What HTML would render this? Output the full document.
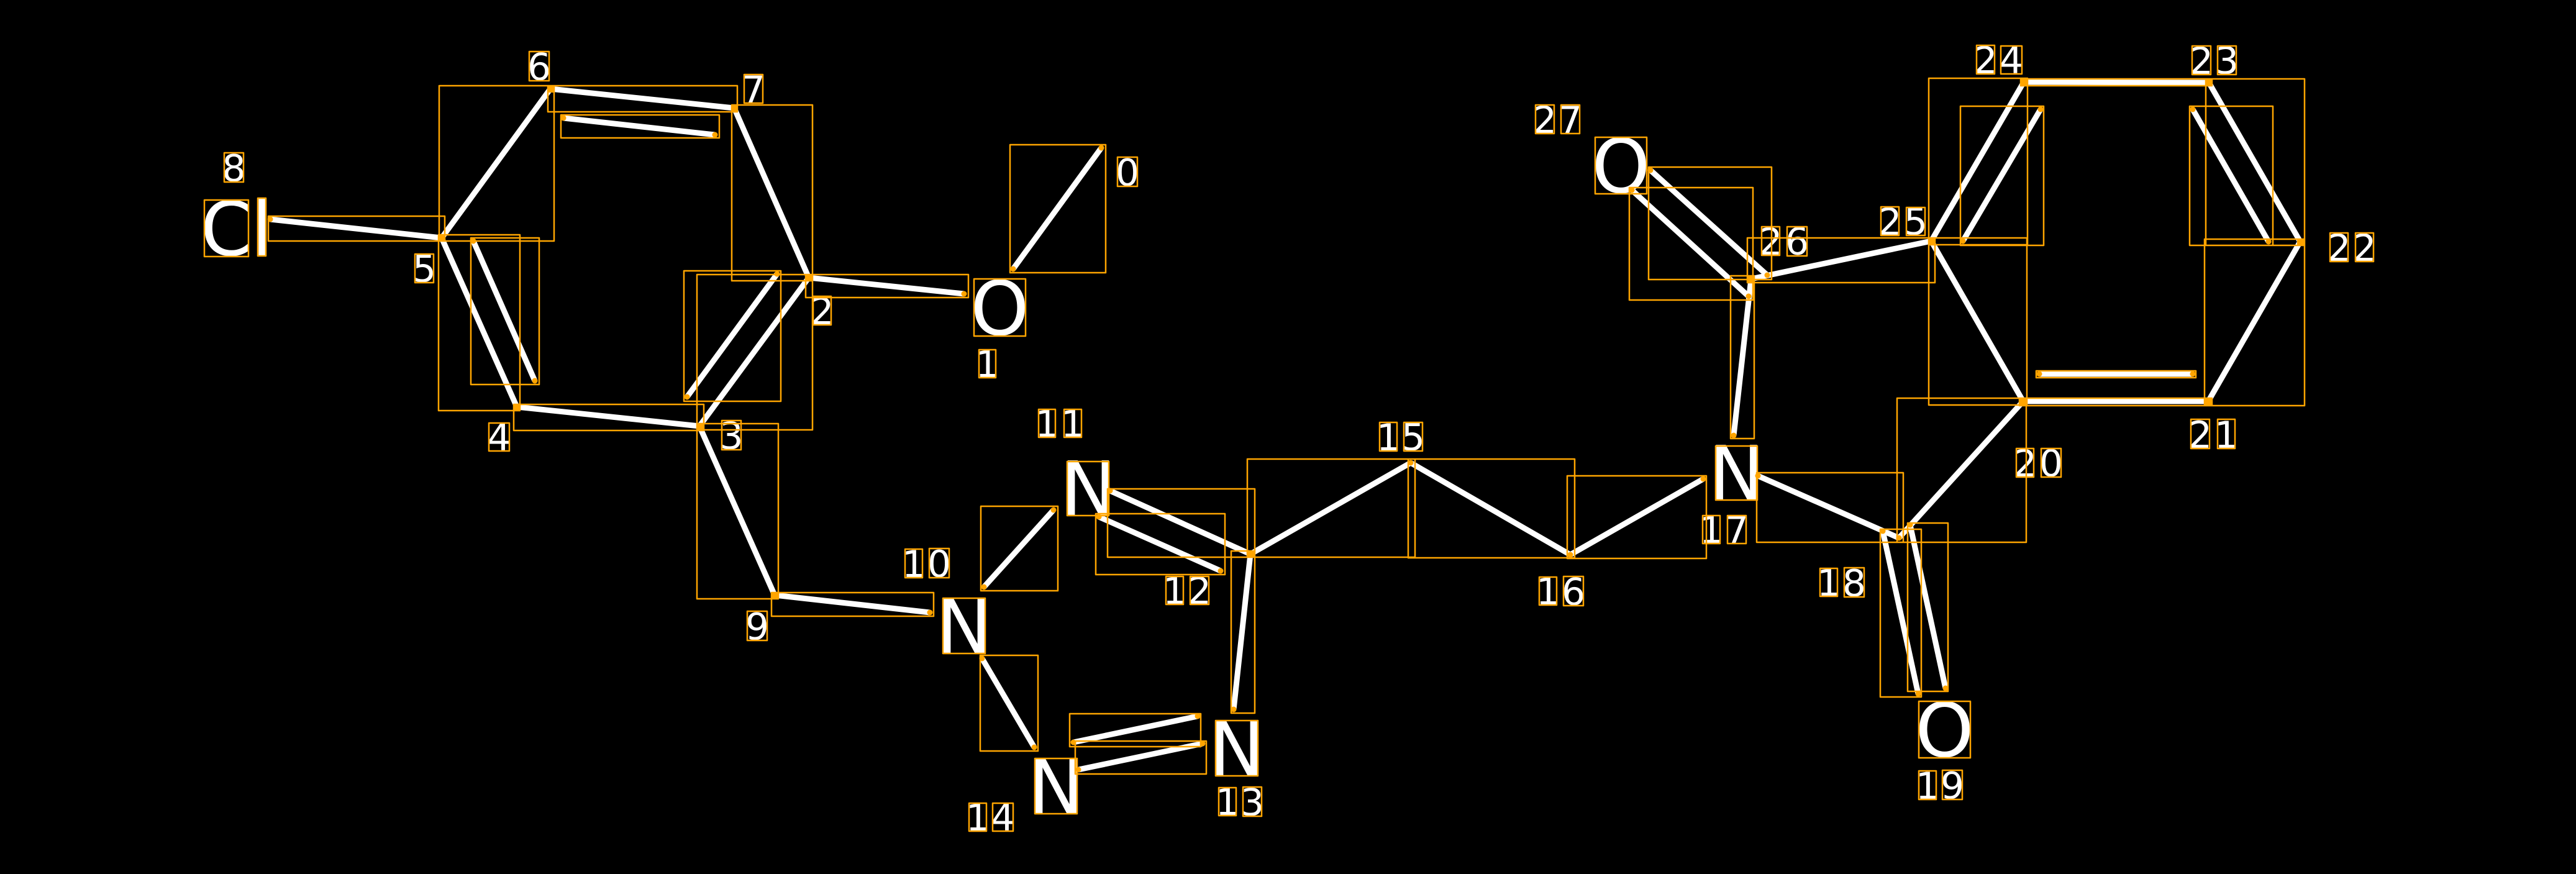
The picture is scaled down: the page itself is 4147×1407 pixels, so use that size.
<!DOCTYPE html>
<html>
<head>
<meta charset="utf-8">
<style>
html,body{margin:0;padding:0;background:#000;width:4147px;height:1407px;overflow:hidden}
svg{display:block}
text{font-family:"DejaVu Sans","Liberation Sans",sans-serif;fill:#fff;text-anchor:middle}
.a{font-size:120px}
.d{font-size:60px}
</style>
</head>
<body>
<svg xmlns="http://www.w3.org/2000/svg" width="4147" height="1407" viewBox="0 0 4147 1407">
<rect width="4147" height="1407" fill="#000"/>
<path fill="none" stroke="#fff" stroke-width="9" stroke-linecap="butt" d="M435 353L711 383M711 383L886 143M886 143L1182 174M907 190L1151 217M1182 174L1302 447M1302 447L1552 473M1631 433L1773 238M1302 447L1126 686M1251 441L1106 639M1126 686L832 655M711 383L832 655M762 388L861 613M1126 686L1247 958M1247 958L1497 986M1584 945L1696 821M1581 1060L1665 1203M1728 1195L1928 1153M1736 1239L1936 1197M1986 1142L2013 892M1787 790L2013 892M1769 832L1965 919M2013 892L2271 745M2271 745L2528 893M2528 893L2742 771M2830 766L3057 866M3031 855L3088 1117M3075 845L3132 1108M3057 866L3257 646M3257 646L3555 646M3283 602L3530 602M3555 646L3703 389M3703 389L3556 133M3652 389L3530 176M3556 133L3258 132M3258 132L3109 388M3285 176L3160 388M3109 388L3257 646M3109 388L2819 449M2657 274L2845 443M2627 306L2815 477M2819 449L2791 701"/>

<text class="a" x="364.500" y="411">C</text>
<text class="a" x="421.500" y="411">l</text>
<text class="a" x="1609.500" y="539">O</text>
<text class="a" x="1552" y="1051">N</text>
<text class="a" x="1752" y="829">N</text>
<text class="a" x="1991" y="1248">N</text>
<text class="a" x="1700" y="1309">N</text>
<text class="a" x="2795.500" y="804">N</text>
<text class="a" x="3130.500" y="1218">O</text>
<text class="a" x="2609.500" y="310">O</text>

<text class="d" x="1815" y="298.500">0</text>
<text class="d" x="1589.500" y="607">1</text>
<text class="d" x="1323.500" y="522">2</text>
<text class="d" x="1177.500" y="722.500">3</text>
<text class="d" x="803.500" y="725">4</text>
<text class="d" x="683" y="453.500">5</text>
<text class="d" x="868" y="128.500">6</text>
<text class="d" x="1213" y="165">7</text>
<text class="d" x="376.500" y="291.500">8</text>
<text class="d" x="1219" y="1029.500">9</text>
<text class="d" x="1471" y="929">1</text><text class="d" x="1512" y="928.500">0</text>
<text class="d" x="1685.500" y="703">1</text><text class="d" x="1727" y="703">1</text>
<text class="d" x="1891" y="972">1</text><text class="d" x="1931" y="972">2</text>
<text class="d" x="1976" y="1312">1</text><text class="d" x="2016" y="1312.500">3</text>
<text class="d" x="1574" y="1337">1</text><text class="d" x="1614.500" y="1337">4</text>
<text class="d" x="2235" y="725">1</text><text class="d" x="2275" y="724.500">5</text>
<text class="d" x="2492" y="973">1</text><text class="d" x="2533" y="973.500">6</text>
<text class="d" x="2755" y="874">1</text><text class="d" x="2796" y="874">7</text>
<text class="d" x="2944" y="959">1</text><text class="d" x="2985" y="959.500">8</text>
<text class="d" x="3103" y="1286">1</text><text class="d" x="3143" y="1285.500">9</text>
<text class="d" x="3260" y="767">2</text><text class="d" x="3302" y="766.500">0</text>
<text class="d" x="3542" y="721">2</text><text class="d" x="3584" y="721">1</text>
<text class="d" x="3765.500" y="420">2</text><text class="d" x="3806.500" y="420">2</text>
<text class="d" x="3544" y="119">2</text><text class="d" x="3585" y="118.500">3</text>
<text class="d" x="3196.500" y="118">2</text><text class="d" x="3238" y="118">4</text>
<text class="d" x="3042.500" y="378">2</text><text class="d" x="3084" y="377.500">5</text>
<text class="d" x="2850.500" y="410">2</text><text class="d" x="2893" y="409.500">6</text>
<text class="d" x="2487" y="214">2</text><text class="d" x="2528" y="214">7</text>

<g fill="none" stroke="#FFA500" stroke-width="2.5" stroke-linejoin="round">
<path d="M432 348H716V388H432ZM707 138H892V388H707ZM882 138H1187V180H882ZM903 185H1158V222H903ZM1178 169H1308V452H1178ZM1297 442H1559V479H1297ZM1626 233H1780V439H1626ZM1122 442H1308V692H1122ZM1101 436H1257V646H1101ZM827 651H1133V693H827ZM706 378H837V661H706ZM758 383H868V619H758ZM1122 682H1253V964H1122ZM1242 954H1503V992H1242ZM1579 815H1703V951H1579ZM1578 1055H1671V1209H1578ZM1722 1149H1933V1202H1722ZM1731 1193H1942V1246H1731ZM1982 887H2020V1148H1982ZM1783 787H2020V897H1783ZM1764 827H1972V925H1764ZM2008 739H2278V897H2008ZM2267 739H2535V898H2267ZM2523 766H2747V899H2523ZM2828 761H3064V873H2828ZM3027 852H3093V1122H3027ZM3071 842H3136V1113H3071ZM3054 641H3262V873H3054ZM3251 641H3561V653H3251ZM3278 597H3535V608H3278ZM3549 385H3710V653H3549ZM3551 127H3710V395H3551ZM3525 171H3659V395H3525ZM3253 127H3561V138H3253ZM3105 126H3264V394H3105ZM3156 171H3290V395H3156ZM3105 383H3263V652H3105ZM2813 383H3115V455H2813ZM2654 269H2852V450H2654ZM2623 302H2822V483H2623ZM2786 444H2824V706H2786Z"/>
<path d="M329 322H400V413H329ZM415 319H428V412H415ZM1568 449H1651V541H1568ZM1518 963H1586V1052H1518ZM1718 743H1785V830H1718ZM1957 1160H2025V1249H1957ZM1666 1221H1734V1310H1666ZM2762 718H2829V805H2762ZM3089 1129H3172V1220H3089ZM2568 221H2651V312H2568Z"/>
<path d="M1799 253H1831V300H1799ZM1576 563H1603V608H1576ZM1309 477H1338V523H1309ZM1162 677H1193V724H1162ZM787 681H820V726H787ZM668 409H698V455H668ZM852 83H884V130H852ZM1198 120H1228V166H1198ZM361 246H392V293H361ZM1203 984H1235V1031H1203ZM1457 884H1485V930H1457ZM1496 883H1528V930H1496ZM1672 659H1699V704H1672ZM1713 659H1741V704H1713ZM1877 928H1905V973H1877ZM1916 928H1946V973H1916ZM1962 1268H1990V1313H1962ZM2001 1267H2031V1314H2001ZM1560 1293H1588V1338H1560ZM1598 1293H1631V1338H1598ZM2221 680H2249V726H2221ZM2260 680H2290V726H2260ZM2478 929H2506V974H2478ZM2517 928H2549V975H2517ZM2741 830H2769V875H2741ZM2781 830H2811V875H2781ZM2930 915H2958V960H2930ZM2969 914H3001V961H2969ZM3089 1241H3117V1287H3089ZM3127 1240H3159V1287H3127ZM3246 722H3274V768H3246ZM3286 722H3318V768H3286ZM3527 675H3557V722H3527ZM3570 675H3598V722H3570ZM3751 375H3780V421H3751ZM3792 375H3821V421H3792ZM3529 74H3559V120H3529ZM3570 74H3600V120H3570ZM3182 73H3211V119H3182ZM3221 74H3255V119H3221ZM3028 333H3057V379H3028ZM3069 334H3099V379H3069ZM2836 365H2865V411H2836ZM2877 365H2909V412H2877ZM2472 169H2502V215H2472ZM2513 169H2543V215H2513Z"/>
</g>

<g fill="#FFA500">
<rect x="706" y="378" width="11" height="11"/><rect x="881" y="138" width="11" height="11"/><rect x="1177" y="169" width="11" height="11"/><rect x="1297" y="442" width="11" height="11"/><rect x="1121" y="681" width="11" height="11"/><rect x="827" y="650" width="11" height="11"/><rect x="1242" y="953" width="11" height="11"/><rect x="2008" y="887" width="11" height="11"/><rect x="2814" y="444" width="11" height="11"/><rect x="3104" y="383" width="11" height="11"/><rect x="3252" y="641" width="11" height="11"/><rect x="3550" y="641" width="11" height="11"/><rect x="3698" y="384" width="11" height="11"/><rect x="3551" y="128" width="11" height="11"/><rect x="3253" y="127" width="11" height="11"/>
<circle cx="435" cy="353" r="4.500"/><circle cx="907" cy="190" r="4.500"/><circle cx="1151" cy="217" r="4.500"/><circle cx="1552" cy="473" r="4.500"/><circle cx="1631" cy="433" r="4.500"/><circle cx="1773" cy="238" r="4.500"/><circle cx="1251" cy="441" r="4.500"/><circle cx="1106" cy="639" r="4.500"/><circle cx="762" cy="388" r="4.500"/><circle cx="861" cy="613" r="4.500"/><circle cx="1497" cy="986" r="4.500"/><circle cx="1584" cy="945" r="4.500"/><circle cx="1696" cy="821" r="4.500"/><circle cx="1581" cy="1060" r="4.500"/><circle cx="1665" cy="1203" r="4.500"/><circle cx="1728" cy="1195" r="4.500"/><circle cx="1928" cy="1153" r="4.500"/><circle cx="1736" cy="1239" r="4.500"/><circle cx="1936" cy="1197" r="4.500"/><circle cx="1986" cy="1142" r="4.500"/><circle cx="1787" cy="790" r="4.500"/><circle cx="1769" cy="832" r="4.500"/><circle cx="1965" cy="919" r="4.500"/><circle cx="2271" cy="745" r="4.500"/><circle cx="2528" cy="893" r="4.500"/><circle cx="2742" cy="771" r="4.500"/><circle cx="2830" cy="766" r="4.500"/><circle cx="3057" cy="866" r="4.500"/><circle cx="3031" cy="855" r="4.500"/><circle cx="3088" cy="1117" r="4.500"/><circle cx="3075" cy="845" r="4.500"/><circle cx="3132" cy="1108" r="4.500"/><circle cx="3283" cy="602" r="4.500"/><circle cx="3530" cy="602" r="4.500"/><circle cx="3652" cy="389" r="4.500"/><circle cx="3530" cy="176" r="4.500"/><circle cx="3285" cy="176" r="4.500"/><circle cx="3160" cy="388" r="4.500"/><circle cx="2657" cy="274" r="4.500"/><circle cx="2845" cy="443" r="4.500"/><circle cx="2627" cy="306" r="4.500"/><circle cx="2815" cy="477" r="4.500"/><circle cx="2791" cy="701" r="4.500"/>
</g>
</svg>
</body>
</html>
